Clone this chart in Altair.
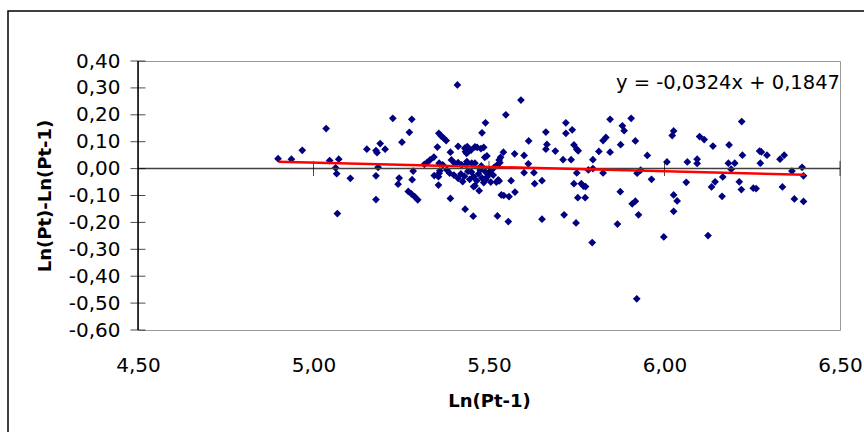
import altair as alt
import pandas as pd

# Scatter points: x = Ln(Pt-1), y = Ln(Pt)-Ln(Pt-1)
x_vals = [
    4.899, 4.937, 4.968, 5.036, 5.046, 5.072, 5.063, 5.066, 5.068, 5.105,
    5.152, 5.178, 5.181, 5.190, 5.204, 5.184, 5.178, 5.178, 5.226,
    5.252, 5.244, 5.241, 5.273, 5.280, 5.284, 5.281, 5.270, 5.279, 5.288, 5.297,
    5.316, 5.324, 5.332, 5.343, 5.357, 5.364, 5.371, 5.378, 5.353, 5.344, 5.356,
    5.356, 5.358, 5.358, 5.368, 5.360,
    5.390, 5.393, 5.402, 5.412, 5.388, 5.400, 5.412, 5.390, 5.410, 5.412, 5.380,
    5.431, 5.438, 5.433, 5.436, 5.422, 5.435, 5.432, 5.455, 5.460, 5.466, 5.449,
    5.441, 5.437, 5.451, 5.460, 5.456, 5.456, 5.472, 5.460, 5.480, 5.490, 5.485,
    5.477, 5.488, 5.494, 5.475, 5.489, 5.498, 5.512, 5.526, 5.420, 5.425, 5.430,
    5.440, 5.445, 5.450, 5.465, 5.470, 5.480, 5.485, 5.495, 5.505, 5.515, 5.522,
    5.478,
    5.491, 5.505, 5.521, 5.529, 5.524, 5.535, 5.542, 5.557, 5.574, 5.555, 5.563,
    5.541, 5.533, 5.529, 5.531, 5.548, 5.573, 5.600, 5.591, 5.613, 5.612, 5.600,
    5.628, 5.630, 5.651,
    5.651, 5.662, 5.665, 5.662, 5.689, 5.711, 5.734, 5.719, 5.719, 5.737, 5.742,
    5.750, 5.754, 5.714, 5.748, 5.742, 5.763, 5.769, 5.775, 5.753, 5.774, 5.750,
    5.783, 5.796, 5.796, 5.794,
    5.813, 5.825, 5.833, 5.845, 5.845, 5.825, 5.875, 5.880, 5.885, 5.905, 5.917,
    5.874, 5.866, 5.908, 5.917, 5.926, 5.922, 5.932, 5.921,
    5.951, 5.963, 6.007, 5.998, 6.026, 6.022, 6.026, 6.036, 6.026, 6.062, 6.065,
    6.093, 6.093, 6.100, 6.113, 6.138, 6.134, 6.144, 6.166, 6.164, 6.124, 6.184,
    6.182, 6.200, 6.190, 6.220, 6.222, 6.213, 6.219, 6.253, 6.261, 6.271, 6.276,
    6.273, 6.292, 6.329, 6.341, 6.336, 6.363, 6.370, 6.392, 6.396, 6.396,
]
y_vals = [
    0.037, 0.035, 0.068, 0.149, 0.030, 0.035, 0.003, -0.019, -0.167, -0.036,
    0.072, 0.067, 0.059, 0.093, 0.072, 0.005, -0.027, -0.115, 0.187,
    0.098, -0.035, -0.058, 0.135, 0.183, -0.009, -0.041, -0.085, -0.094, -0.104, -0.116,
    0.016, 0.023, 0.032, 0.043, 0.131, 0.121, 0.113, 0.104, 0.080, -0.026, -0.030,
    -0.061, -0.017, 0.020, 0.014, -0.008,
    0.061, 0.032, 0.020, 0.022, -0.017, -0.024, -0.036, -0.111, 0.311, 0.083, -0.005,
    0.076, 0.082, 0.063, 0.057, 0.014, 0.016, -0.151, -0.177, 0.081, 0.079, 0.069,
    0.063, 0.026, 0.020, 0.020, -0.030, -0.067, -0.082, -0.064, 0.133, 0.170, 0.079,
    0.074, 0.042, 0.047, -0.005, -0.011, -0.017, -0.024, -0.042, -0.020, -0.048, -0.028,
    -0.010, -0.040, -0.013, -0.045, -0.020, -0.035, -0.052, -0.030, -0.008, 0.005, 0.012,
    0.010,
    -0.040, -0.050, -0.050, -0.046, -0.176, -0.098, -0.100, -0.104, -0.087, -0.197, -0.045,
    0.061, 0.042, 0.032, 0.022, 0.200, 0.055, 0.049, 0.255, 0.103, 0.018, -0.015,
    -0.015, -0.056, -0.045,
    -0.188, 0.136, 0.090, 0.072, 0.065, 0.033, 0.033, 0.170, 0.131, 0.144, 0.088,
    0.072, 0.066, -0.172, -0.202, -0.056, -0.056, -0.065, -0.067, -0.108, -0.108, -0.016,
    -0.005, 0.000, 0.033, -0.275,
    0.064, 0.104, 0.116, 0.183, 0.061, -0.016, 0.089, 0.159, 0.141, 0.187, 0.103,
    -0.086, -0.206, -0.131, -0.121, -0.172, -0.017, -0.006, -0.484,
    0.049, -0.040, 0.025, -0.254, 0.140, 0.123, -0.098, -0.120, -0.159, -0.051, 0.025,
    0.035, 0.019, 0.119, 0.108, 0.084, -0.068, -0.049, -0.031, -0.103, -0.249, 0.088,
    0.020, 0.020, -0.002, 0.175, 0.050, -0.049, -0.078, -0.073, -0.074, 0.065, 0.062,
    0.020, 0.050, 0.035, 0.050, -0.068, -0.009, -0.113, 0.005, -0.027, -0.122,
]

# Linear trend line endpoints (as drawn in the reference)
trend_x = [4.90, 6.40]
trend_y = [0.0259, -0.0227]
equation_text = "y = -0,0324x + 0,1847"

x_ticks = [4.5, 5.0, 5.5, 6.0, 6.5]
y_ticks = [-0.6, -0.5, -0.4, -0.3, -0.2, -0.1, 0.0, 0.1, 0.2, 0.3, 0.4]
x_title = "Ln(Pt-1)"
y_title = "Ln(Pt)-Ln(Pt-1)"

FONT = "DejaVu Sans"
label_expr = "replace(replace(format(datum.value, '.2f'), '.', ','), '\u2212', '-')"

xs = alt.Scale(domain=[4.5, 6.5], nice=False, zero=False)
ys = alt.Scale(domain=[-0.6, 0.4], nice=False, zero=False)

points = pd.DataFrame({"x": x_vals, "y": y_vals})
trend = pd.DataFrame({"x": trend_x, "y": trend_y})
one = pd.DataFrame({"k": [0]})

x_axis = alt.Axis(
    values=x_ticks, labelExpr=label_expr, domain=False, ticks=False, grid=False,
    labelOverlap=False, labelFlush=False,
    labelFont=FONT, labelFontSize=20, labelColor="#000000", labelPadding=25,
    title=x_title, titleFont=FONT, titleFontSize=18, titleFontWeight="bold",
    titleColor="#000000", titleY=71, titleBaseline="middle",
)
y_axis = alt.Axis(
    values=y_ticks, labelExpr=label_expr, domain=False, ticks=False, grid=False,
    labelOverlap=False, labelFlush=False,
    labelFont=FONT, labelFontSize=20, labelColor="#000000", labelPadding=18,
    title=y_title, titleFont=FONT, titleFontSize=18, titleFontWeight="bold",
    titleColor="#000000", titleX=-93, titleY=134.5, titleBaseline="middle",
)


def X(field="x"):
    return alt.X(f"{field}:Q", scale=xs, axis=x_axis, title=x_title)


def Y(field="y"):
    return alt.Y(f"{field}:Q", scale=ys, axis=y_axis, title=y_title)


scatter = alt.Chart(points).mark_point(
    shape="diamond", filled=True, size=60, color="#000080", opacity=1
).encode(x=X(), y=Y())

frame = alt.Chart(one).mark_rect(fillOpacity=0, stroke="#000000", strokeWidth=1.5).encode(
    x=alt.value(-130), x2=alt.value(900), y=alt.value(-50), y2=alt.value(500)
)

zero_line = alt.Chart(pd.DataFrame({"y": [0.0]})).mark_rule(color="#404040", strokeWidth=1.5).encode(
    y=Y()
)

zero_ticks = alt.Chart(pd.DataFrame({"x": x_ticks[1:], "y": [0.0] * 4})).mark_tick(
    orient="vertical", size=15, thickness=1, color="#000000"
).encode(x=X(), y=Y())

trend_line = alt.Chart(trend).mark_line(color="#FF0000", strokeWidth=2.5).encode(
    x=X(), y=Y()
)

left_axis = alt.Chart(pd.DataFrame({"x": [4.5]})).mark_rule(color="#000000", strokeWidth=1.5).encode(
    x=X()
)

y_tick_marks = alt.Chart(pd.DataFrame({"x": [4.5] * len(y_ticks), "y": y_ticks})).mark_tick(
    orient="horizontal", size=15, thickness=1, color="#000000"
).encode(x=X(), y=Y())

equation = alt.Chart(pd.DataFrame({"x": [6.5], "y": [0.32], "t": [equation_text]})).mark_text(
    align="right", baseline="middle", font=FONT, fontSize=19.5, color="#000000"
).encode(x=X(), y=Y(), text="t:N")

chart = alt.layer(
    scatter, frame, zero_line, zero_ticks, trend_line, left_axis, y_tick_marks, equation
).properties(
    width=702, height=269,
    autosize=alt.AutoSizeParams(type="none"),
    padding={"left": 138, "top": 61, "right": 24, "bottom": 102},
    background="#FFFFFF",
).configure_view(
    stroke="#999999", strokeWidth=1
)

chart.save("out.html", embed_options={"renderer": "svg", "actions": False})
